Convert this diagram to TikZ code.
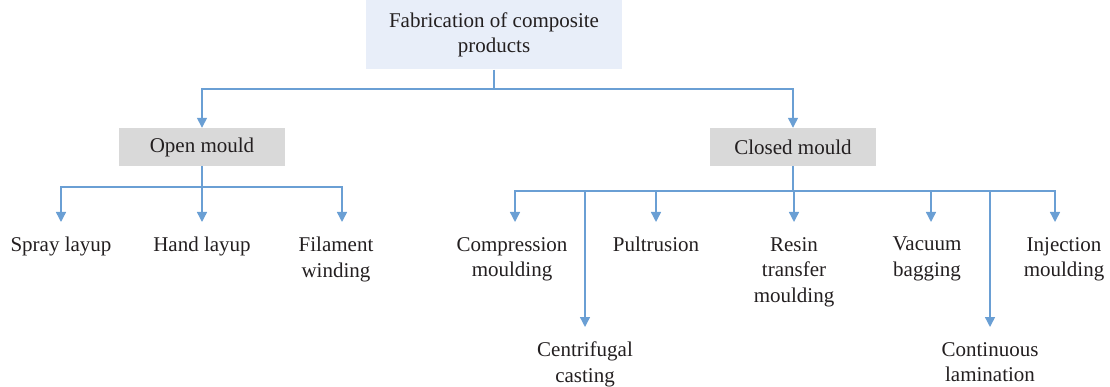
\documentclass[tikz,border=0pt]{standalone}
\usepackage{fontspec}
\setmainfont{Liberation Serif}
\usetikzlibrary{arrows.meta}
\definecolor{lineblue}{HTML}{6A9FD4}
\definecolor{topfill}{HTML}{E8EEF9}
\definecolor{boxgrey}{HTML}{D9D9D9}
\definecolor{txt}{HTML}{231F20}
\begin{document}
\begin{tikzpicture}[x=1pt,y=-1pt,
  conn/.style={draw=lineblue, line width=1.4pt},
  arr/.style={conn, -{Triangle[length=10pt,width=10pt]}},
  topbox/.style={fill=topfill, minimum width=256pt, minimum height=69pt, align=center, font=\fontsize{21}{25}\selectfont, text=txt, inner sep=0pt},
  midbox/.style={fill=boxgrey, minimum width=166pt, minimum height=38pt, font=\fontsize{21}{25}\selectfont, text=txt, inner sep=0pt},
  leaf/.style={anchor=north, align=center, font=\fontsize{21}{25.5}\selectfont, text=txt, inner xsep=0pt, inner ysep=15pt}]
\useasboundingbox (0,0) rectangle (1110,387);

\node[topbox] (top) at (494,35) {Fabrication of composite\\products};
\node[midbox] (open) at (202,147) {Open mould};
\node[midbox] (closed) at (793,147) {Closed mould};

\node[leaf] (spray) at (61,222) {Spray layup};
\node[leaf] (hand) at (202,222) {Hand layup};
\node[leaf] (fil) at (336,222) {Filament\\winding};
\node[leaf] (comp) at (512,222) {Compression\\moulding};
\node[leaf] (pul) at (656,222) {Pultrusion};
\node[leaf] (rtm) at (794,222) {Resin\\transfer\\moulding};
\node[leaf] (vac) at (927,222) {Vacuum\\bagging};
\node[leaf] (inj) at (1064,222) {Injection\\moulding};
\node[leaf] (cen) at (585,327) {Centrifugal\\casting};
\node[leaf] (con) at (990,327) {Continuous\\lamination};

\coordinate (b0) at (494,89);
\coordinate (b1) at (202,187);
\coordinate (b2) at (793,191);

\draw[conn] (top.south) -- (b0);
\draw[arr] (b0) -| (open.north);
\draw[arr] (b0) -| (closed.north);

\draw[conn] (open.south) -- (b1);
\draw[arr] (b1) -| (spray.north);
\draw[arr] (b1) -- (hand.north);
\draw[arr] (b1) -| ([xshift=6pt]fil.north);

\draw[conn] (closed.south) -- (b2);
\draw[arr] (b2) -| ([xshift=3pt]comp.north);
\draw[arr] (b2) -| (cen.north);
\draw[arr] (b2) -| (pul.north);
\draw[arr] (b2) -| (rtm.north);
\draw[arr] (b2) -| ([xshift=4pt]vac.north);
\draw[arr] (b2) -| (con.north);
\draw[arr] (b2) -| ([xshift=-9pt]inj.north);
\end{tikzpicture}
\end{document}
